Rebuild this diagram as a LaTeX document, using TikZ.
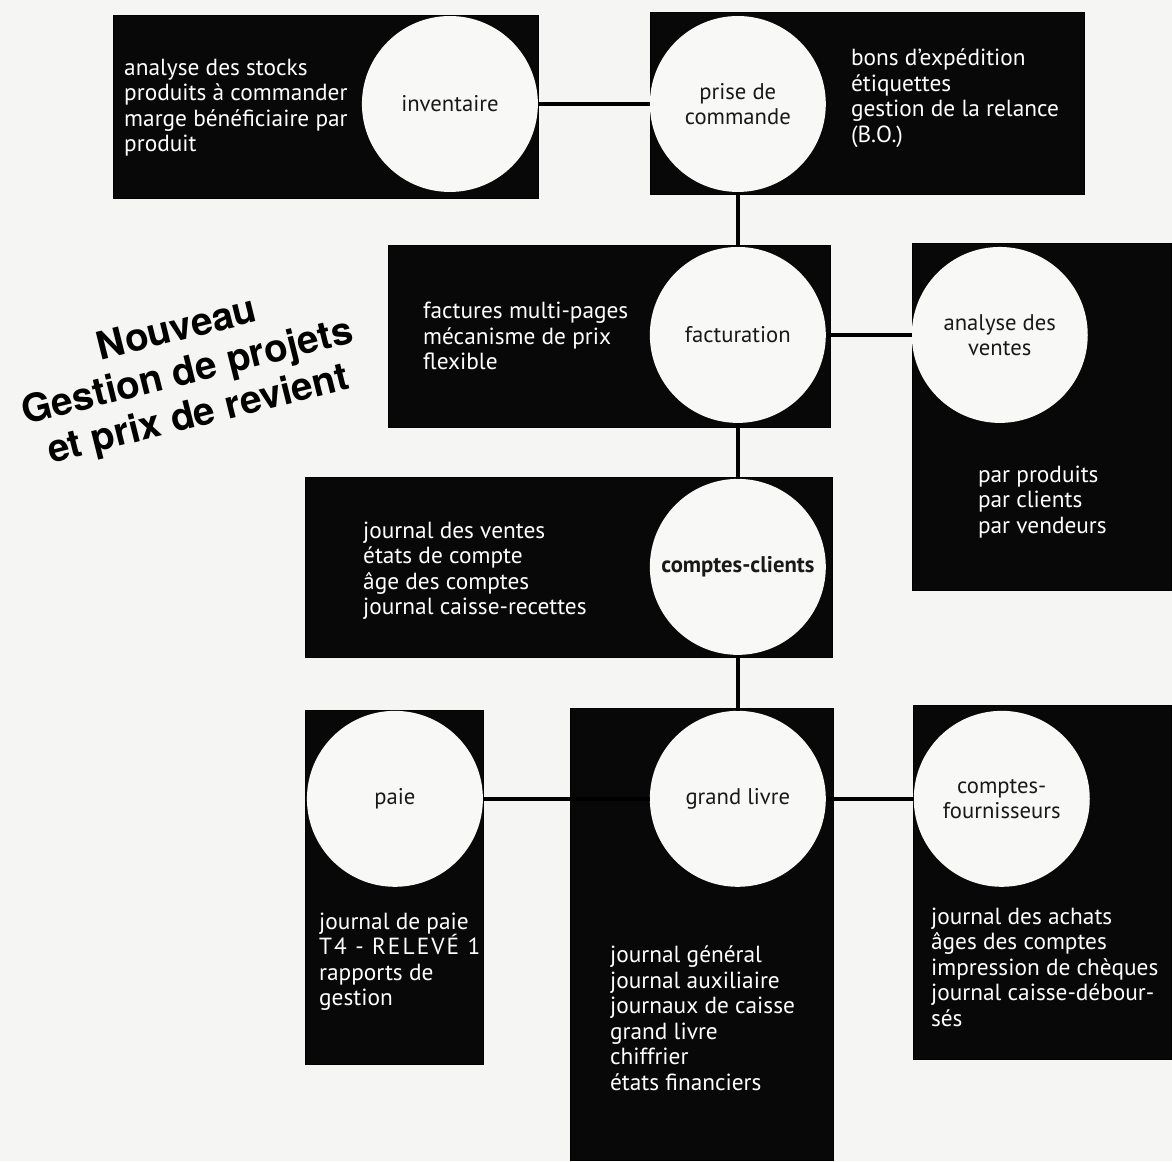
\documentclass[tikz,border=0pt]{standalone}
\usepackage{fontspec}
\setmainfont{PT Sans}
\newfontfamily\headfont{TeX Gyre Heros}
\usepackage{xcolor}

\begin{document}
\begin{tikzpicture}[x=0.75pt,y=0.75pt,yscale=-1,xscale=1,
  panel/.style={fill={rgb, 255:red, 8; green, 8; blue, 8 }},
  disc/.style={circle, fill={rgb, 255:red, 248; green, 248; blue, 246 }, minimum size=132pt, inner sep=0.75pt, align=center, text={rgb, 255:red, 25; green, 25; blue, 25 }, font=\fontsize{17}{19}\selectfont},
  items/.style={anchor=west, inner sep=0.75pt, align=left, text=white, font=\fontsize{17.5}{19.1}\selectfont},
  link/.style={line width=3pt}]
%set diagram left start at 0, and has height of 1161
\fill [color={rgb, 255:red, 245; green, 245; blue, 243 }] (0,0) rectangle (1172,1161) ;

%Shape: Rectangle
\draw [panel] (113,15) -- (538,15) -- (538,198) -- (113,198) -- cycle ;
%Shape: Rectangle
\draw [panel] (650,12) -- (1085,12) -- (1085,194) -- (650,194) -- cycle ;
%Shape: Rectangle
\draw [panel] (388,245) -- (830,245) -- (830,427) -- (388,427) -- cycle ;
%Shape: Rectangle
\draw [panel] (912,243) -- (1172,243) -- (1172,590) -- (912,590) -- cycle ;
%Shape: Rectangle
\draw [panel] (305,477) -- (832,477) -- (832,657) -- (305,657) -- cycle ;
%Shape: Rectangle
\draw [panel] (305,710) -- (483,710) -- (483,1064) -- (305,1064) -- cycle ;
%Shape: Rectangle
\draw [panel] (570,708) -- (833,708) -- (833,1161) -- (570,1161) -- cycle ;
%Shape: Rectangle
\draw [panel] (913,705) -- (1172,705) -- (1172,1059) -- (913,1059) -- cycle ;

%Shape: Circle
\node [disc] (inv) at (450,104) {inventaire};
%Shape: Circle
\node [disc] (pc) at (738,104) {prise de\\commande};
%Shape: Circle
\node [disc] (fact) at (738,335) {facturation};
%Shape: Circle
\node [disc] (av) at (1000,335) {analyse des\\ventes};
%Shape: Circle
\node [disc, font=\bfseries\fontsize{17}{19}\selectfont] (cc) at (738,567) {comptes-clients};
%Shape: Circle
\node [disc] (paie) at (395,799) {paie};
%Shape: Circle
\node [disc] (gl) at (738,799) {grand livre};
%Shape: Circle
\node [disc] (cf) at (1002,799) {comptes-\\fournisseurs};

%Straight Lines
\draw [link] (inv) -- (pc) ;
%Straight Lines
\draw [link] (pc) -- (fact) ;
%Straight Lines
\draw [link] (fact) -- (av) ;
%Straight Lines
\draw [link] (fact) -- (cc) ;
%Straight Lines
\draw [link] (cc) -- (gl) ;
%Straight Lines
\draw [link] (paie) -- (gl) ;
%Straight Lines
\draw [link] (gl) -- (cf) ;

% Text Node
\draw (123,107.5) node [items] (stocks) {analyse des stocks\\produits à commander\\marge bénéficiaire par\\produit};
% Text Node
\draw (850,98) node [items] (expedition) {bons d’expédition\\étiquettes\\gestion de la relance\\(B.O.)};
% Text Node
\draw (422,336) node [items] (factures) {factures multi-pages\\mécanisme de prix\\flexible};
% Text Node
\draw (977,502) node [items] (ventes) {par produits\\par clients\\par vendeurs};
% Text Node
\draw (362,571) node [items] (recettes) {journal des ventes\\états de compte\\âge des comptes\\journal caisse-recettes};
% Text Node
\draw (318,962) node [items] (salaires) {journal de paie\\{\addfontfeature{LetterSpace=9}T4 - RELEVÉ 1}\\rapports de\\gestion};
% Text Node
\draw (609,1018.5) node [items] (registres) {journal général\\journal auxiliaire\\journaux de caisse\\grand livre\\chiffrier\\états financiers};
% Text Node
\draw (930,967.5) node [items] (achats) {journal des achats\\âges des comptes\\impression de chèques\\journal caisse-débour-\\sés};
% Text Node
\draw (188,374) node [rotate=14, align=center, inner sep=0.75pt, font=\headfont\bfseries\fontsize{29}{33}\selectfont] (nouveau) {Nouveau\\Gestion de projets\\et prix de revient};

\end{tikzpicture}
\end{document}
